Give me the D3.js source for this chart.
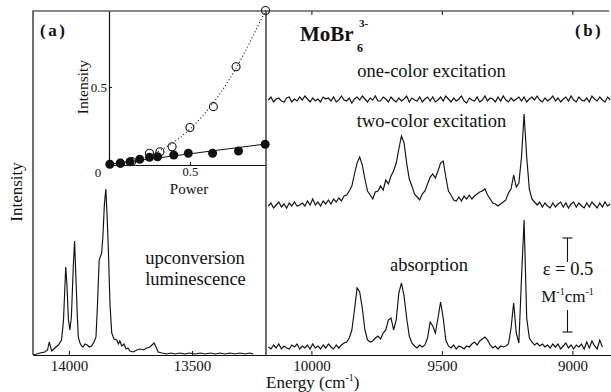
<!DOCTYPE html>
<html>
<head>
<meta charset="utf-8">
<script src="https://cdn.jsdelivr.net/npm/d3@7/dist/d3.min.js"></script>
<style>
  body { margin: 0; background: #fff; }
  svg { display: block; }
</style>
</head>
<body>
<div id="chart"></div>
<script>
// ---- data ----

// (a) upconversion luminescence, [energy cm-1, intensity]
const luminescence = [
  [14145, 0], [14118, 2], [14098, 3], [14087, 5], [14080, 13], [14070, 4], [14057, 7],
  [14043, 10], [14030, 15], [14022, 35], [14013, 88], [14008, 70], [14002, 35], [13996, 25],
  [13990, 38], [13982, 90], [13977, 114], [13972, 80], [13966, 40], [13962, 18], [13955, 12],
  [13948, 9], [13942, 8], [13935, 11], [13926, 10], [13917, 8], [13908, 9], [13898, 13],
  [13890, 18], [13884, 50], [13877, 95], [13867, 102], [13862, 118], [13856, 150], [13850, 166],
  [13845, 140], [13840, 108], [13833, 50], [13826, 22], [13817, 16], [13806, 15], [13799, 11],
  [13793, 14], [13785, 9], [13776, 11], [13768, 6], [13760, 7], [13752, 4], [13739, 3],
  [13724, 5], [13711, 6], [13698, 5], [13683, 7], [13671, 8], [13654, 12], [13646, 8],
  [13637, 3], [13622, 2], [13603, 1], [13585, 2], [13569, 1], [13550, 2], [13528, 1],
  [13510, 2], [13488, 1], [13465, 2], [13447, 1], [13425, 2], [13406, 1], [13385, 2],
  [13366, 1], [13345, 2], [13325, 1], [13305, 2], [13284, 1], [13265, 2], [13251, 1]
]

// (b) spectra sampled every 10 cm-1 starting at 10165 cm-1 (one row = 100 cm-1)
const specStart = 10165
const specStep = 10

const absorption = [
  1, -1, 3, 0, 4, -1, 2, 0, -1, 3,      // 10165
  1, 4, -1, 2, 0, 3, -1, 4, 0, 2,       // 10065
  -1, 3, 0, 4, 1, -1, 3, 0, 3, 5,       // 9965
  6, 10, 18, 38, 60, 56, 40, 18, 8, 6,  // 9865
  7, 10, 12, 9, 15, 18, 28, 30, 18, 28, // 9765
  55, 65, 52, 30, 12, 5, 2, 0, 3, 1,    // 9665
  3, 10, 26, 22, 15, 30, 46, 30, 8, 2,  // 9565
  0, 3, -1, 2, 1, -1, 2, 1, 4, 6,       // 9465
  3, 7, 9, 11, 8, 3, 0, 2, -1, 2,       // 9365
  1, 2, 4, 20, 45, 15, 5, 70, 128, 30,  // 9265
  10, 6, 3, 5, 2, 4, 1, 3, 0, 4,        // 9165
  1, 4, -1, 2, 5, 0, 3, -1, 3, 1,       // 9065
  4, -1, 6, 0, 7, 2, -1, 8, 1           // 8965
]

const twoColor = [
  1, 4, -1, 2, 5, 0, 3, -1, 4, 1,        // 10165
  5, 1, 2, 4, 1, 6, 2, 8, 2, 5,          // 10065
  1, 6, 3, 7, 3, 8, 5, 9, 6, 11,         // 9965
  12, 16, 21, 33, 44, 50, 42, 28, 16, 12, // 9865
  8, 15, 16, 21, 17, 27, 23, 31, 36, 44, // 9765
  58, 71, 64, 44, 28, 21, 13, 10, 7, 13, // 9665
  16, 23, 30, 33, 29, 36, 44, 46, 30, 16, // 9565
  12, 7, 6, 10, 6, 11, 8, 12, 8, 11,     // 9465
  13, 15, 16, 18, 12, 8, 4, 3, 1, 3,     // 9365
  5, 7, 14, 18, 32, 20, 24, 50, 93, 50,  // 9265
  18, 8, 5, 2, 5, 0, 4, 1, -1, 4,        // 9165
  0, 3, 5, 0, 4, -1, 3, 5, 0, 4,         // 9065
  1, -1, 4, 0, 5, 2, -1, 4, 0, 5,        // 8965
  1, 3                                   // 8865
]

const oneColor = [
  0, 3, -2, 1, 2, -1, -2, 2, 3, -2,
  1, -1, 3, 0, 4, 1, -2, 2, -1, 1,
  -2, 3, 1, 2, -1, 3, -2, 0, 4, 0,
  -1, 2, -3, 1, 3, 0, 4, 1, -2, 2,
  0, 4, -1, -1, 3, 1, -2, 3, 0, -2,
  2, -1, 1, 4, -2, 2, 0, -1, 3, -2,
  1, 3, -1, 3, -2, 0, 3, -1, 4, 1,
  -2, 2, -1, 1, 4, -1, -3, 2, 0, -1,
  3, -2, 0, 4, -1, 2, 1, -2, 3, -1,
  4, 0, -2, 2, -1, 1, 3, -1, 3, -2,
  1, 3, 0, 4, 0, -2, 2, -1, 1, 4,
  -1, 2, -2, 1, 3, -1, 4, 0, -2, 3,
  0, -1, 2, -2, 4, 1, -1, 3, 0, -2,
  3, 0
]

// vertical offsets of the stacked traces (intensity units)
const absOffset = 7
const twoColorOffset = 148
const oneColorOffset = 255

// scale bar: eps = 0.5 M-1 cm-1 in absorption units
const scaleBarTop = 117
const scaleBarBottom = 23

// inset: intensity vs power
const filledPower = [0.005, 0.07, 0.13, 0.19, 0.25, 0.30, 0.40, 0.49, 0.64, 0.80, 0.965]
const filledIntensity = [0.005, 0.011, 0.021, 0.037, 0.049, 0.053, 0.064, 0.075, 0.075, 0.09, 0.133]
const openPower = [0.07, 0.14, 0.25, 0.315, 0.39, 0.50, 0.645, 0.785, 0.967]
const openIntensity = [0.012, 0.022, 0.075, 0.085, 0.117, 0.24, 0.374, 0.63, 0.99]
const quadFitPower = [0, 0.2, 0.36, 0.5, 0.645, 0.785, 0.967]
const quadFitIntensity = [0, 0.04, 0.12, 0.23, 0.40, 0.62, 0.99]
const linFitPower = [0, 0.97]
const linFitIntensity = [0.005, 0.135]

// tick values
const lumTicks = [14000, 13500]
const specTicks = [10000, 9500, 9000]
const insetTicks = [0.5]

// ---- layout ----
const width = 611
const height = 392
const frame = { left: 33, split: 266, right: 611, top: 11, bottom: 355 }
const inset = { left: 109, bottom: 165 }
const ink = '#111'
const serif = "'Liberation Serif', 'Times New Roman', 'DejaVu Serif', serif"

const svg = d3
  .select('#chart')
  .append('svg')
  .attr('width', width)
  .attr('height', height)
  .attr('font-family', serif)

// scales
const xLum = d3.scaleLinear().domain([14146, 13199]).range([frame.left, frame.split])
const xSpec = d3.scaleLinear().domain([10174, 8852]).range([frame.split, frame.right])
const y = d3.scaleLinear().domain([0, 344]).range([frame.bottom, frame.top])
const xIn = d3.scaleLinear().domain([0, 0.97]).range([inset.left, frame.split])
const yIn = d3.scaleLinear().domain([0, 0.987]).range([inset.bottom, frame.top])

// frame: top edge, left edge, panel divider
svg
  .append('path')
  .attr('d', `M${frame.left},${frame.bottom}V${frame.top}H${frame.right - 2}M${frame.split},${frame.top}V${frame.bottom}`)
  .attr('fill', 'none')
  .attr('stroke', ink)
  .attr('stroke-width', 1.2)

// axes share one look
function styleAxis(g, size) {
  g.attr('font-family', serif)
  g.selectAll('.tick line').attr('stroke', ink)
  g.selectAll('.tick text').attr('fill', ink).attr('font-size', size)
  g.select('.domain').attr('stroke', ink).attr('stroke-width', 1.2)
}

svg
  .append('g')
  .attr('transform', `translate(0,${frame.bottom})`)
  .call(
    d3.axisBottom(xLum).tickValues(lumTicks).tickFormat(d3.format('d'))
      .tickSizeInner(-4).tickSizeOuter(0).tickPadding(5.5),
  )
  .call((g) => styleAxis(g, 15))

svg
  .append('g')
  .attr('transform', `translate(0,${frame.bottom})`)
  .call(
    d3.axisBottom(xSpec).tickValues(specTicks).tickFormat(d3.format('d'))
      .tickSizeInner(-4).tickSizeOuter(0).tickPadding(5.5),
  )
  .call((g) => styleAxis(g, 15))

// top ticks of panel (b)
svg
  .append('g')
  .attr('transform', `translate(0,${frame.top})`)
  .call(d3.axisTop(xSpec).tickValues(specTicks).tickSizeInner(-4).tickSizeOuter(0).tickFormat(''))
  .call((g) => g.select('.domain').remove())
  .call((g) => g.selectAll('.tick line').attr('stroke', ink))

// ---- traces ----
const traceStyle = (sel) =>
  sel
    .attr('fill', 'none')
    .attr('stroke', ink)
    .attr('stroke-width', 1.15)
    .attr('stroke-linejoin', 'miter')

const lumLine = d3
  .line()
  .x((d) => xLum(d[0]))
  .y((d) => y(d[1]))

svg.append('path').attr('d', lumLine(luminescence)).call(traceStyle)

function specPath(values, offset) {
  return d3
    .line()
    .x((v, i) => xSpec(specStart - specStep * i))
    .y((v) => y(offset + v))(values)
}

svg.append('path').attr('d', specPath(absorption, absOffset)).call(traceStyle)
svg.append('path').attr('d', specPath(twoColor, twoColorOffset)).call(traceStyle)
svg.append('path').attr('d', specPath(oneColor, oneColorOffset)).call(traceStyle)

// ---- inset ----
svg
  .append('g')
  .attr('transform', `translate(0,${inset.bottom})`)
  .call(d3.axisBottom(xIn).tickValues(insetTicks).tickSizeInner(-3).tickSizeOuter(0).tickPadding(2.5))
  .call((g) => styleAxis(g, 12.5))

svg
  .append('g')
  .attr('transform', `translate(${inset.left},0)`)
  .call(d3.axisLeft(yIn).tickValues(insetTicks).tickSizeInner(-3).tickSizeOuter(0).tickPadding(2))
  .call((g) => styleAxis(g, 13))

svg
  .append('text')
  .attr('x', xIn(0) - 11)
  .attr('y', yIn(0) + 12)
  .attr('text-anchor', 'middle')
  .attr('font-size', 13)
  .attr('fill', ink)
  .text('0')

const quadLine = d3
  .line()
  .curve(d3.curveCatmullRom)
  .x((d, i) => xIn(quadFitPower[i]))
  .y((d) => yIn(d))

svg
  .append('path')
  .attr('d', quadLine(quadFitIntensity))
  .attr('fill', 'none')
  .attr('stroke', ink)
  .attr('stroke-width', 1.1)
  .attr('stroke-dasharray', '1,2.4')

const linLine = d3
  .line()
  .x((d, i) => xIn(linFitPower[i]))
  .y((d) => yIn(d))

svg
  .append('path')
  .attr('d', linLine(linFitIntensity))
  .attr('fill', 'none')
  .attr('stroke', ink)
  .attr('stroke-width', 1.1)

svg
  .append('g')
  .selectAll('circle')
  .data(openIntensity)
  .enter()
  .append('circle')
  .attr('cx', (d, i) => xIn(openPower[i]))
  .attr('cy', (d) => yIn(d))
  .attr('r', 4)
  .attr('fill', 'none')
  .attr('stroke', ink)
  .attr('stroke-width', 1.1)

svg
  .append('g')
  .selectAll('circle')
  .data(filledIntensity)
  .enter()
  .append('circle')
  .attr('cx', (d, i) => xIn(filledPower[i]))
  .attr('cy', (d) => yIn(d))
  .attr('r', 4.5)
  .attr('fill', ink)

// ---- scale bar ----
const barX = 567.5
const bar = svg.append('g').attr('stroke', ink).attr('stroke-width', 1.1)
bar.append('line').attr('x1', barX).attr('x2', barX).attr('y1', y(scaleBarTop)).attr('y2', y(scaleBarTop) + 24)
bar.append('line').attr('x1', barX - 5).attr('x2', barX + 5).attr('y1', y(scaleBarTop)).attr('y2', y(scaleBarTop))
bar.append('line').attr('x1', barX).attr('x2', barX).attr('y1', y(scaleBarBottom) - 22).attr('y2', y(scaleBarBottom))
bar.append('line').attr('x1', barX - 5).attr('x2', barX + 5).attr('y1', y(scaleBarBottom)).attr('y2', y(scaleBarBottom))

// ---- labels ----
function label(x, yPos, text, size, opts = {}) {
  return svg
    .append('text')
    .attr('x', x)
    .attr('y', yPos)
    .attr('font-size', size)
    .attr('fill', ink)
    .attr('text-anchor', opts.anchor || 'start')
    .attr('font-weight', opts.bold ? 'bold' : null)
    .attr('letter-spacing', opts.spacing || null)
    .text(text)
}

label(40, 36, '(a)', 17, { bold: true, spacing: 2.5 })
label(575, 36, '(b)', 17, { bold: true, spacing: 2.5 })
label(300, 41, 'MoBr', 21, { bold: true })
label(357, 52, '6', 12, { bold: true })
label(359, 27, '3-', 11, { bold: true })

label(431.5, 77, 'one-color excitation', 18.5, { anchor: 'middle' })
label(431.5, 127, 'two-color excitation', 18.5, { anchor: 'middle' })
label(429, 271, 'absorption', 18.5, { anchor: 'middle' })
label(195, 264, 'upconversion', 18.5, { anchor: 'middle' })
label(195.5, 285, 'luminescence', 18.5, { anchor: 'middle' })
label(568, 275, '\u03b5 = 0.5', 18.5, { anchor: 'middle' })

const unit = label(567.5, 302, '', 17, { anchor: 'middle' })
unit.append('tspan').text('M')
unit.append('tspan').attr('dy', -7).attr('font-size', 10).text('-1')
unit.append('tspan').attr('dy', 7).text('cm')
unit.append('tspan').attr('dy', -7).attr('font-size', 10).text('-1')

const energy = label(266, 388, '', 17)
energy.append('tspan').text('Energy (cm')
energy.append('tspan').attr('dy', -7).attr('font-size', 10).text('-1')
energy.append('tspan').attr('dy', 7).text(')')

label(189, 194, 'Power', 15, { anchor: 'middle' })

svg
  .append('text')
  .attr('transform', 'translate(22,192) rotate(-90)')
  .attr('text-anchor', 'middle')
  .attr('font-size', 17)
  .attr('fill', ink)
  .text('Intensity')

svg
  .append('text')
  .attr('transform', 'translate(88,87) rotate(-90)')
  .attr('text-anchor', 'middle')
  .attr('font-size', 15.5)
  .attr('fill', ink)
  .text('Intensity')
</script>
</body>
</html>
